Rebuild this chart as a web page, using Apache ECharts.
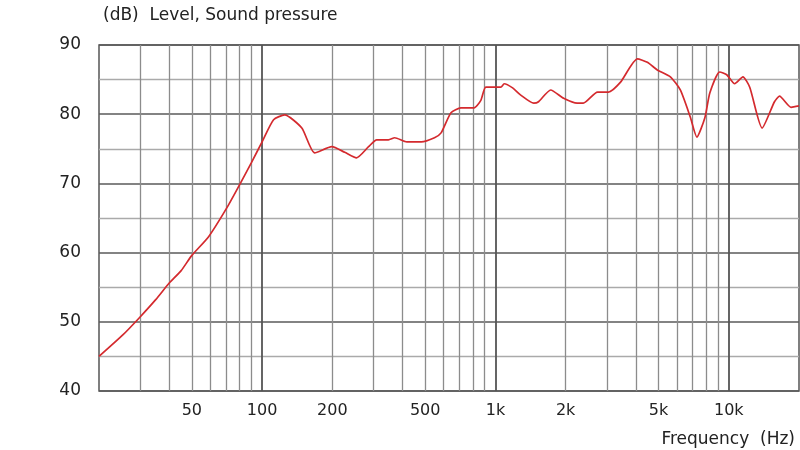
<!DOCTYPE html>
<html><head><meta charset="utf-8">
<script src="https://cdn.jsdelivr.net/npm/echarts@6/dist/echarts.min.js"></script>
<style>html,body{margin:0;padding:0;background:#fff}#c{width:800px;height:450px}</style>
</head><body><div id="c"></div>
<script>
const freqs = [20,25.3,30,35,40,45,50,59,71,81,90,100,112,125,148,168,199,226,254,286,310,348,370,417,481,548,585,645,711,810,866,910,1055,1090,1185,1280,1460,1530,1725,1960,2240,2380,2740,3050,3430,4060,4480,4940,5620,6200,6840,7300,7900,8300,9150,9800,10600,11500,12300,13900,15700,16500,18500,20000];
const levels = [45,48.1,50.7,53.2,55.6,57.4,59.6,62.3,66.6,70.1,73,76,79.2,79.9,78,74.4,75.3,74.5,73.7,75.3,76.3,76.3,76.6,76,76,76.6,77.3,80.2,80.9,80.9,82,83.9,83.9,84.4,83.8,82.8,81.6,81.8,83.5,82.3,81.6,81.6,83.2,83.2,84.6,88,87.5,86.4,85.4,83.5,79.6,76.7,79.5,83.1,86.1,85.7,84.4,85.4,83.9,78,81.8,82.6,81,81.2];
const gridFreqs = [30,40,50,60,70,80,90,100,200,300,400,500,600,700,800,900,1000,2000,3000,4000,5000,6000,7000,8000,9000,10000];
const tickLabels = {50:'50',100:'100',200:'200',500:'500',1000:'1k',2000:'2k',5000:'5k',10000:'10k'};
const decades = [100,1000,10000];
const font = 'DejaVu Sans';
const ml = gridFreqs.map(f => ({
  xAxis: f,
  lineStyle: {color: decades.includes(f) ? '#555' : '#8c8c8c', width: decades.includes(f) ? 1.8 : 1.3, type: 'solid'},
  label: {show: !!tickLabels[f], formatter: tickLabels[f] || '', position: 'start', distance: 12, color: '#222', fontSize: 16, fontFamily: font}
}));
const chart = echarts.init(document.getElementById('c'));
chart.setOption({
  animation: false,
  grid: {left: 99, right: 1, top: 45, bottom: 59, show: true, borderColor: '#555', borderWidth: 1.5},
  title: [
    {text: '(dB)  Level, Sound pressure', left: 98, top: 2, textStyle: {fontFamily: font, fontSize: 17, fontWeight: 'normal', color: '#222'}},
    {text: 'Frequency  (Hz)', right: 0, top: 426, textStyle: {fontFamily: font, fontSize: 17, fontWeight: 'normal', color: '#222'}}
  ],
  xAxis: {type: 'log', logBase: 10, min: 20, max: 20000, axisLabel: {show: false}, axisTick: {show: false}, splitLine: {show: false}, axisLine: {show: false}},
  yAxis: {type: 'value', min: 40, max: 90, interval: 10,
    axisLabel: {color: '#222', fontSize: 17, fontFamily: font, margin: 18},
    axisTick: {show: false}, axisLine: {show: false},
    splitLine: {lineStyle: {color: '#5a5a5a', width: 1.6}},
    minorTick: {show: false, splitNumber: 2},
    minorSplitLine: {show: true, lineStyle: {color: '#aaa', width: 1.3}}},
  series: [
    {type: 'line', data: [], markLine: {silent: true, symbol: 'none', data: ml, animation: false}},
    {type: 'line', data: freqs.map((f, i) => [f, levels[i]]), showSymbol: false, smooth: 0.2,
     lineStyle: {color: '#d42a2e', width: 1.7}, z: 5}
  ]
});
</script></body></html>
